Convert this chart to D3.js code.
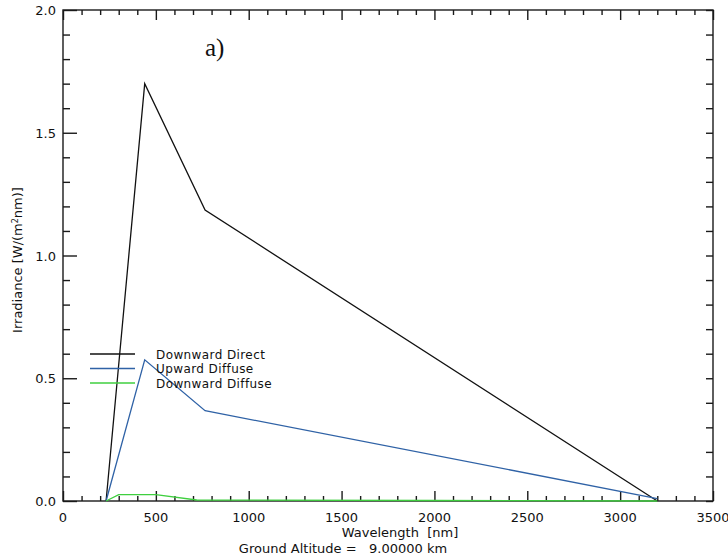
<!DOCTYPE html>
<html>
<head>
<meta charset="utf-8">
<script src="https://cdn.jsdelivr.net/npm/d3@7"></script>
<style>
  body { margin: 0; background: #fff; }
  svg text { font-family: "DejaVu Sans", sans-serif; fill: #111; }
</style>
</head>
<body>
<div id="chart"></div>
<script>
// wavelength nodes of the two main curves [nm]
const wavelength = [232, 440, 765, 3200];
const downwardDirect = [0, 1.70, 1.185, 0];
const upwardDiffuse = [0, 0.575, 0.368, 0.01];
// green curve has its own nodes
const diffuseWavelength = [232, 300, 500, 720, 2000, 3200];
const downwardDiffuse = [0, 0.026, 0.026, 0.004, 0.002, 0];

const seriesNames = ["Downward Direct", "Upward Diffuse", "Downward Diffuse"];
const seriesColors = ["#111111", "#2f62a6", "#3fcf3f"];
const xTickLabels = [0, 500, 1000, 1500, 2000, 2500, 3000, 3500];
const yTickLabels = ["0.0", "0.5", "1.0", "1.5", "2.0"];

const width = 728, height = 558;
const margin = {top: 10, right: 15, bottom: 57, left: 63};
const innerWidth = width - margin.left - margin.right;
const innerHeight = height - margin.top - margin.bottom;

const svg = d3.select("#chart").append("svg")
    .attr("width", width)
    .attr("height", height);

const chart = svg.append("g")
    .attr("transform", `translate(${margin.left}, ${margin.top})`);

const x = d3.scaleLinear().domain([0, 3500]).range([0, innerWidth]);
const y = d3.scaleLinear().domain([0, 2]).range([innerHeight, 0]);

const xMinor = d3.range(0, 3501, 100).filter(d => d % 500 !== 0);
const yMinor = d3.range(0, 21, 1).map(d => d / 10).filter(d => Math.round(d * 10) % 5 !== 0);
const xMajor = xTickLabels;
const yMajor = yTickLabels.map(Number);

// tick marks only, labels are drawn separately
function drawTicks(axisFn, scale, values, size, transform) {
    const g = chart.append("g")
        .attr("class", "axis")
        .attr("transform", transform)
        .call(axisFn(scale).tickValues(values).tickSize(size));
    g.select(".domain").remove();
    g.selectAll("text").remove();
    g.selectAll("line").attr("stroke", "#1a1a1a").attr("stroke-width", 1.4);
    return g;
}

// bottom and top (ticks point inward)
drawTicks(d3.axisTop, x, xMajor, 10, `translate(0,${innerHeight})`);
drawTicks(d3.axisTop, x, xMinor, 5, `translate(0,${innerHeight})`);
drawTicks(d3.axisBottom, x, xMajor, 10, "translate(0,0)");
drawTicks(d3.axisBottom, x, xMinor, 5, "translate(0,0)");
// left and right
drawTicks(d3.axisRight, y, yMajor, 14, "translate(0,0)");
drawTicks(d3.axisRight, y, yMinor, 7, "translate(0,0)");
drawTicks(d3.axisLeft, y, yMajor, 7, `translate(${innerWidth},0)`);
drawTicks(d3.axisLeft, y, yMinor, 7, `translate(${innerWidth},0)`);

// tick labels
chart.append("g").selectAll("text")
    .data(xTickLabels)
    .join("text")
    .attr("x", d => x(d))
    .attr("y", innerHeight + 21)
    .attr("text-anchor", "middle")
    .style("font-size", "13px")
    .text(d => d);

chart.append("g").selectAll("text")
    .data(yTickLabels)
    .join("text")
    .attr("x", -7)
    .attr("y", d => y(+d) + 5)
    .attr("text-anchor", "end")
    .style("font-size", "13px")
    .text(d => d);

// frame
chart.append("rect")
    .attr("width", innerWidth)
    .attr("height", innerHeight)
    .attr("fill", "none")
    .attr("stroke", "#1a1a1a")
    .attr("stroke-width", 1.4);

const line = d3.line().x(d => x(d[0])).y(d => y(d[1]));

const series = [
    d3.zip(wavelength, downwardDirect),
    d3.zip(wavelength, upwardDiffuse),
    d3.zip(diffuseWavelength, downwardDiffuse)
];

chart.selectAll(".series")
    .data(series)
    .join("path")
    .attr("class", "series")
    .attr("d", line)
    .attr("fill", "none")
    .attr("stroke", (d, i) => seriesColors[i])
    .attr("stroke-width", 1.3);

// legend
const legend = svg.append("g").attr("transform", "translate(90, 354)");
seriesNames.forEach((name, i) => {
    legend.append("line")
        .attr("x1", 0).attr("x2", 45)
        .attr("y1", i * 14.5).attr("y2", i * 14.5)
        .attr("stroke", seriesColors[i])
        .attr("stroke-width", 1.3);
    legend.append("text")
        .attr("x", 66)
        .attr("y", i * 14.5 + 4.5)
        .style("font-size", "12px")
        .style("letter-spacing", "0.4px")
        .text(name);
});

// axis titles
svg.append("text")
    .attr("x", 400)
    .attr("y", 537)
    .attr("text-anchor", "middle")
    .style("font-size", "13px")
    .attr("xml:space", "preserve")
    .text("Wavelength  [nm]");

svg.append("text")
    .attr("x", 343)
    .attr("y", 553)
    .attr("text-anchor", "middle")
    .style("font-size", "13px")
    .attr("xml:space", "preserve")
    .text("Ground Altitude =   9.00000 km");

const yTitle = svg.append("text")
    .attr("transform", "translate(22, 260) rotate(-90)")
    .attr("text-anchor", "middle")
    .style("font-size", "13px");
yTitle.append("tspan").text("Irradiance [W/(m");
yTitle.append("tspan").attr("baseline-shift", "super").style("font-size", "8px").text("2");
yTitle.append("tspan").text("nm)]");

// panel label
svg.append("text")
    .attr("x", 205)
    .attr("y", 56)
    .style("font-family", "'Liberation Serif', serif")
    .style("font-size", "25px")
    .text("a)");
</script>
</body>
</html>
